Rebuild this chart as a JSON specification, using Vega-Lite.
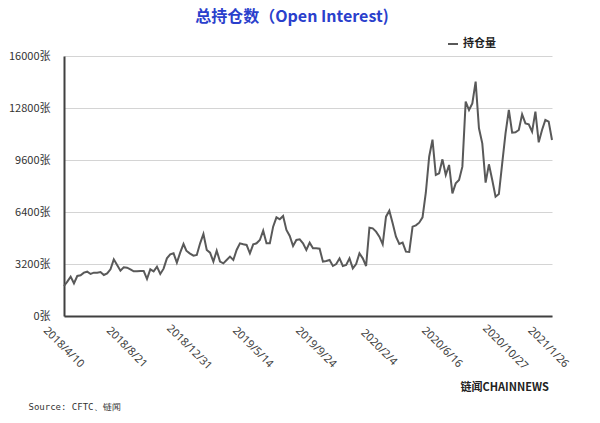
{
  "$schema": "https://vega.github.io/schema/vega-lite/v6.json",
  "width": 488,
  "height": 260,
  "autosize": {"type": "none"},
  "padding": {"left": 64, "top": 56, "right": 48, "bottom": 107},
  "background": "#ffffff",
  "title": {
    "text": "总持仓数（Open Interest)",
    "font": "Noto Sans CJK SC",
    "fontSize": 16,
    "fontWeight": "bold",
    "color": "#2a40cc",
    "anchor": "middle",
    "frame": "group",
    "dx": -16,
    "offset": 13
  },
  "data": {
    "values": [
      {"date": "2018-04-10", "oi": 1847},
      {"date": "2018-04-17", "oi": 2113},
      {"date": "2018-04-24", "oi": 2421},
      {"date": "2018-05-01", "oi": 2011},
      {"date": "2018-05-08", "oi": 2462},
      {"date": "2018-05-15", "oi": 2503},
      {"date": "2018-05-22", "oi": 2667},
      {"date": "2018-05-29", "oi": 2728},
      {"date": "2018-06-05", "oi": 2585},
      {"date": "2018-06-12", "oi": 2667},
      {"date": "2018-06-19", "oi": 2667},
      {"date": "2018-06-26", "oi": 2708},
      {"date": "2018-07-03", "oi": 2524},
      {"date": "2018-07-10", "oi": 2626},
      {"date": "2018-07-17", "oi": 2872},
      {"date": "2018-07-24", "oi": 3488},
      {"date": "2018-07-31", "oi": 3139},
      {"date": "2018-08-07", "oi": 2790},
      {"date": "2018-08-14", "oi": 2995},
      {"date": "2018-08-21", "oi": 2975},
      {"date": "2018-08-28", "oi": 2872},
      {"date": "2018-09-04", "oi": 2749},
      {"date": "2018-09-11", "oi": 2749},
      {"date": "2018-09-18", "oi": 2770},
      {"date": "2018-09-25", "oi": 2770},
      {"date": "2018-10-02", "oi": 2277},
      {"date": "2018-10-09", "oi": 2872},
      {"date": "2018-10-16", "oi": 2749},
      {"date": "2018-10-23", "oi": 3036},
      {"date": "2018-10-30", "oi": 2585},
      {"date": "2018-11-06", "oi": 2913},
      {"date": "2018-11-13", "oi": 3549},
      {"date": "2018-11-20", "oi": 3795},
      {"date": "2018-11-27", "oi": 3857},
      {"date": "2018-12-04", "oi": 3283},
      {"date": "2018-12-11", "oi": 3898},
      {"date": "2018-12-18", "oi": 4431},
      {"date": "2018-12-24", "oi": 4021},
      {"date": "2018-12-31", "oi": 3857},
      {"date": "2019-01-08", "oi": 3713},
      {"date": "2019-01-15", "oi": 3754},
      {"date": "2019-01-22", "oi": 4472},
      {"date": "2019-01-29", "oi": 5046},
      {"date": "2019-02-05", "oi": 4062},
      {"date": "2019-02-12", "oi": 3898},
      {"date": "2019-02-19", "oi": 3344},
      {"date": "2019-02-26", "oi": 4021},
      {"date": "2019-03-05", "oi": 3344},
      {"date": "2019-03-12", "oi": 3241},
      {"date": "2019-03-19", "oi": 3447},
      {"date": "2019-03-26", "oi": 3652},
      {"date": "2019-04-02", "oi": 3447},
      {"date": "2019-04-09", "oi": 4062},
      {"date": "2019-04-16", "oi": 4472},
      {"date": "2019-04-23", "oi": 4411},
      {"date": "2019-04-30", "oi": 4370},
      {"date": "2019-05-07", "oi": 3857},
      {"date": "2019-05-14", "oi": 4411},
      {"date": "2019-05-21", "oi": 4472},
      {"date": "2019-05-28", "oi": 4677},
      {"date": "2019-06-04", "oi": 5252},
      {"date": "2019-06-11", "oi": 4472},
      {"date": "2019-06-18", "oi": 4472},
      {"date": "2019-06-25", "oi": 5498},
      {"date": "2019-07-02", "oi": 6072},
      {"date": "2019-07-09", "oi": 5949},
      {"date": "2019-07-16", "oi": 6154},
      {"date": "2019-07-23", "oi": 5293},
      {"date": "2019-07-30", "oi": 4923},
      {"date": "2019-08-06", "oi": 4308},
      {"date": "2019-08-13", "oi": 4677},
      {"date": "2019-08-20", "oi": 4718},
      {"date": "2019-08-27", "oi": 4472},
      {"date": "2019-09-03", "oi": 4062},
      {"date": "2019-09-10", "oi": 4513},
      {"date": "2019-09-17", "oi": 4164},
      {"date": "2019-09-24", "oi": 4164},
      {"date": "2019-10-01", "oi": 4140},
      {"date": "2019-10-08", "oi": 3344},
      {"date": "2019-10-15", "oi": 3385},
      {"date": "2019-10-22", "oi": 3447},
      {"date": "2019-10-29", "oi": 3078},
      {"date": "2019-11-05", "oi": 3201},
      {"date": "2019-11-12", "oi": 3549},
      {"date": "2019-11-19", "oi": 3078},
      {"date": "2019-11-26", "oi": 3139},
      {"date": "2019-12-03", "oi": 3549},
      {"date": "2019-12-10", "oi": 2934},
      {"date": "2019-12-17", "oi": 3201},
      {"date": "2019-12-24", "oi": 3857},
      {"date": "2019-12-31", "oi": 3549},
      {"date": "2020-01-07", "oi": 3078},
      {"date": "2020-01-14", "oi": 5436},
      {"date": "2020-01-21", "oi": 5395},
      {"date": "2020-01-28", "oi": 5190},
      {"date": "2020-02-04", "oi": 4883},
      {"date": "2020-02-11", "oi": 4411},
      {"date": "2020-02-18", "oi": 6113},
      {"date": "2020-02-25", "oi": 6482},
      {"date": "2020-03-03", "oi": 5703},
      {"date": "2020-03-10", "oi": 4883},
      {"date": "2020-03-17", "oi": 4431},
      {"date": "2020-03-24", "oi": 4513},
      {"date": "2020-03-31", "oi": 3959},
      {"date": "2020-04-07", "oi": 3939},
      {"date": "2020-04-14", "oi": 5500},
      {"date": "2020-04-21", "oi": 5580},
      {"date": "2020-04-28", "oi": 5744},
      {"date": "2020-05-05", "oi": 6072},
      {"date": "2020-05-12", "oi": 7600},
      {"date": "2020-05-19", "oi": 9800},
      {"date": "2020-05-26", "oi": 10850},
      {"date": "2020-06-02", "oi": 8677},
      {"date": "2020-06-09", "oi": 8780},
      {"date": "2020-06-16", "oi": 9641},
      {"date": "2020-06-23", "oi": 8677},
      {"date": "2020-06-30", "oi": 9293},
      {"date": "2020-07-07", "oi": 7549},
      {"date": "2020-07-14", "oi": 8165},
      {"date": "2020-07-21", "oi": 8370},
      {"date": "2020-07-28", "oi": 9190},
      {"date": "2020-08-04", "oi": 13190},
      {"date": "2020-08-11", "oi": 12677},
      {"date": "2020-08-18", "oi": 13087},
      {"date": "2020-08-25", "oi": 14420},
      {"date": "2020-09-01", "oi": 11549},
      {"date": "2020-09-08", "oi": 10626},
      {"date": "2020-09-15", "oi": 8206},
      {"date": "2020-09-22", "oi": 9334},
      {"date": "2020-09-29", "oi": 8370},
      {"date": "2020-10-06", "oi": 7344},
      {"date": "2020-10-13", "oi": 7508},
      {"date": "2020-10-20", "oi": 9395},
      {"date": "2020-10-27", "oi": 11241},
      {"date": "2020-11-03", "oi": 12677},
      {"date": "2020-11-10", "oi": 11282},
      {"date": "2020-11-17", "oi": 11303},
      {"date": "2020-11-24", "oi": 11446},
      {"date": "2020-12-01", "oi": 12410},
      {"date": "2020-12-08", "oi": 11856},
      {"date": "2020-12-15", "oi": 11795},
      {"date": "2020-12-22", "oi": 11344},
      {"date": "2020-12-29", "oi": 12574},
      {"date": "2021-01-05", "oi": 10687},
      {"date": "2021-01-12", "oi": 11446},
      {"date": "2021-01-19", "oi": 12061},
      {"date": "2021-01-26", "oi": 11959},
      {"date": "2021-02-02", "oi": 10831}
    ]
  },
  "mark": {"type": "line", "strokeWidth": 2, "strokeJoin": "miter", "interpolate": "linear"},
  "encoding": {
    "x": {
      "field": "date",
      "type": "temporal",
      "scale": {
        "type": "utc",
        "nice": false,
        "domain": [
          {"year": 2018, "month": 4, "date": 10, "utc": true},
          {"year": 2021, "month": 2, "date": 2, "utc": true}
        ]
      },
      "axis": {
        "values": [
          {"year": 2018, "month": 4, "date": 10, "utc": true},
          {"year": 2018, "month": 8, "date": 21, "utc": true},
          {"year": 2018, "month": 12, "date": 31, "utc": true},
          {"year": 2019, "month": 5, "date": 14, "utc": true},
          {"year": 2019, "month": 9, "date": 24, "utc": true},
          {"year": 2020, "month": 2, "date": 4, "utc": true},
          {"year": 2020, "month": 6, "date": 16, "utc": true},
          {"year": 2020, "month": 10, "date": 27, "utc": true},
          {"year": 2021, "month": 1, "date": 26, "utc": true}
        ],
        "labelExpr": "utcFormat(datum.value, '%Y/%-m/%-d')",
        "grid": false,
        "ticks": false,
        "domainColor": "#404040",
        "domainWidth": 2,
        "labelAngle": 45,
        "labelAlign": "center",
        "labelBaseline": "middle",
        "labelPadding": 31,
        "labelOffset": -1,
        "labelFlush": false,
        "labelOverlap": false,
        "labelBound": false,
        "labelFont": "Noto Sans",
        "labelFontSize": 11,
        "labelColor": "#404040",
        "title": "Source: CFTC、链闻",
        "titleFont": "DejaVu Sans Mono",
        "titleFontSize": 9,
        "titleFontWeight": "normal",
        "titleColor": "#333333",
        "titleAlign": "left",
        "titleBaseline": "middle",
        "titleAngle": 0,
        "titleX": -36,
        "titleY": 90
      }
    },
    "y": {
      "field": "oi",
      "type": "quantitative",
      "scale": {"domain": [0, 16000], "nice": false},
      "axis": {
        "values": [0, 3200, 6400, 9600, 12800, 16000],
        "labelExpr": "datum.value + '张'",
        "grid": true,
        "gridColor": "#d4d4d4",
        "gridWidth": 1,
        "ticks": false,
        "domainColor": "#404040",
        "domainWidth": 2,
        "labelPadding": 14,
        "labelFont": "Noto Sans CJK SC",
        "labelFontSize": 11,
        "labelColor": "#333333",
        "title": "链闻CHAINNEWS",
        "titleFont": "Noto Sans CJK SC",
        "titleFontSize": 11,
        "titleFontWeight": "bold",
        "titleColor": "#222222",
        "titleAngle": 0,
        "titleAlign": "left",
        "titleBaseline": "middle",
        "titleX": 396,
        "titleY": 331
      }
    },
    "color": {
      "datum": "持仓量",
      "type": "nominal",
      "scale": {"range": ["#595959"]},
      "legend": {
        "orient": "none",
        "legendX": 383,
        "legendY": -18,
        "title": null,
        "symbolType": "stroke",
        "symbolStrokeWidth": 2,
        "symbolSize": 100,
        "labelFont": "Noto Sans CJK SC",
        "labelFontSize": 11,
        "labelFontWeight": "bold",
        "labelColor": "#222222"
      }
    }
  },
  "config": {"view": {"stroke": null}}
}
